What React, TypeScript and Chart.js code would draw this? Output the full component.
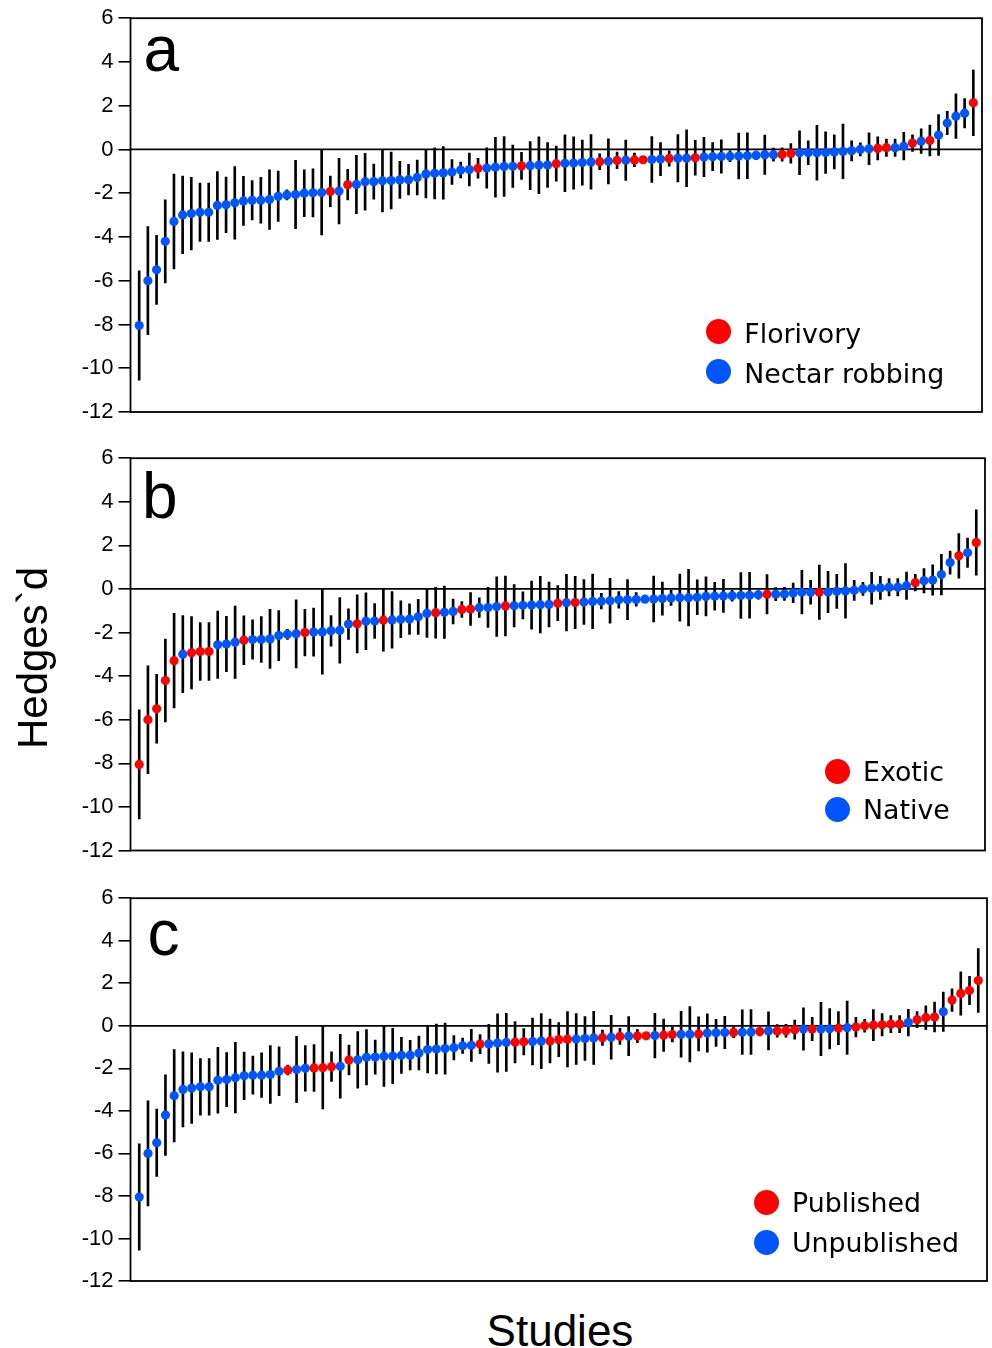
import React, { useEffect, useRef } from "react";
import { Chart, registerables } from "chart.js";
Chart.register(...registerables);

// ---------- DATA ----------
// Hedges' d per study (sorted ascending) and half-width of its confidence interval
const effectSizes = [
  -8.05, -6.0, -5.5, -4.2, -3.29, -2.99, -2.93, -2.87, -2.87, -2.56,
  -2.53, -2.44, -2.35, -2.32, -2.32, -2.29, -2.14, -2.08, -2.06, -2.0,
  -1.98, -1.97, -1.92, -1.9, -1.61, -1.6, -1.48, -1.47, -1.43, -1.42,
  -1.39, -1.38, -1.28, -1.12, -1.09, -1.07, -1.03, -0.94, -0.92, -0.86,
  -0.85, -0.81, -0.78, -0.77, -0.75, -0.74, -0.72, -0.71, -0.65, -0.63,
  -0.62, -0.6, -0.57, -0.56, -0.54, -0.5, -0.49, -0.48, -0.47, -0.46,
  -0.44, -0.41, -0.4, -0.4, -0.38, -0.34, -0.33, -0.32, -0.31, -0.3,
  -0.29, -0.27, -0.24, -0.24, -0.23, -0.18, -0.15, -0.15, -0.15, -0.14,
  -0.11, -0.09, -0.06, 0.0, 0.03, 0.05, 0.08, 0.08, 0.15, 0.29,
  0.38, 0.41, 0.66, 1.21, 1.52, 1.66, 2.13,
];
const ciHalfWidths = [
  2.5, 2.47, 1.58, 1.9, 2.17, 1.77, 1.66, 1.33, 1.33, 1.55,
  1.27, 1.66, 1.12, 0.9, 1.05, 1.36, 1.15, 0.23, 1.56, 1.07,
  1.1, 1.94, 0.7, 1.5, 0.7, 1.33, 1.3, 0.8, 1.42, 1.3,
  0.85, 0.7, 0.8, 1.1, 1.17, 1.2, 0.57, 0.36, 0.75, 0.45,
  0.92, 1.37, 1.37, 0.97, 0.62, 1.1, 1.3, 1.03, 0.8, 1.3,
  1.2, 1.03, 1.25, 0.36, 1.03, 0.38, 0.92, 0.31, 0.16, 1.05,
  0.76, 0.35, 1.08, 1.3, 0.8, 0.9, 0.64, 0.76, 0.25, 1.05,
  1.05, 0.2, 0.9, 0.3, 0.3, 0.45, 1.0, 0.55, 1.25, 0.95,
  0.78, 1.25, 0.46, 0.3, 0.73, 0.53, 0.4, 0.4, 0.63, 0.38,
  0.56, 0.7, 0.93, 0.53, 1.02, 0.67, 1.5,
];
// study numbers (1-based) belonging to the "red" group of each panel
const florivoryStudies = [23, 25, 40, 45, 49, 54, 56, 58, 59, 62, 65, 75, 76, 86, 87, 90, 92, 97];
const exoticStudies = [1, 2, 3, 4, 5, 7, 8, 9, 13, 20, 26, 29, 35, 38, 39, 43, 49, 51, 73, 79, 90, 95, 97];
const publishedStudies = [
  18, 21, 22, 23, 25, 40, 44, 45, 48, 49, 50, 54, 56, 58, 59, 61, 62, 65, 69, 72, 74, 75, 76, 78,
  81, 83, 84, 85, 86, 87, 88, 90, 91, 92, 94, 95, 96, 97,
];
const panelLetters = ["a", "b", "c"];
const redLabels = ["Florivory", "Exotic", "Published"];
const blueLabels = ["Nectar robbing", "Native", "Unpublished"];
const yMin = -12;
const yMax = 6;
const yStep = 2;

// ---------- STYLE / LAYOUT ----------
const RED = "#FF0000";
const BLUE = "#0055FF";
const SANS = "'Liberation Sans', Arial, Helvetica, sans-serif";
const LEGEND_FONT = "'DejaVu Sans', Verdana, sans-serif";

const panelLayouts = [
  { top: 0, height: 432, padTop: 16, padBottom: 20, padRight: 10, letterLeft: 143.5, letterBase: 71, legX: 718.3, legY1: 331.7, legY2: 371.7, textDy: 12.4 },
  { top: 440, height: 430, padTop: 16.5, padBottom: 19.5, padRight: 7, letterLeft: 142, letterBase: 518, legX: 837, legY1: 771, legY2: 809.5, textDy: 10.5 },
  { top: 880, height: 420, padTop: 16, padBottom: 19, padRight: 5, letterLeft: 147.5, letterBase: 955, legX: 766, legY1: 1202, legY2: 1242, textDy: 10.3 },
];

const framePlugin = {
  id: "frame",
  beforeDatasetsDraw(chart: any) {
    const { ctx, chartArea: a, scales } = chart;
    const y0 = scales.y.getPixelForValue(0);
    ctx.save();
    ctx.strokeStyle = "#000";
    ctx.lineWidth = 1.8;
    ctx.beginPath();
    ctx.moveTo(a.left, y0);
    ctx.lineTo(a.right, y0);
    ctx.stroke();
    ctx.restore();
  },
  afterDatasetsDraw(chart: any) {
    const { ctx, chartArea: a } = chart;
    ctx.save();
    ctx.strokeStyle = "#000";
    ctx.lineWidth = 1.8;
    ctx.strokeRect(a.left, a.top, a.right - a.left, a.bottom - a.top);
    ctx.restore();
  },
};

function Panel({ idx, redIds }: { idx: number; redIds: number[] }) {
  const ref = useRef<HTMLCanvasElement>(null);
  const L = panelLayouts[idx];
  useEffect(() => {
    const redSet = new Set(redIds);
    const studyNo = effectSizes.map((_, i) => i + 1);
    const chart = new Chart(ref.current as HTMLCanvasElement, {
      type: "bar",
      data: {
        datasets: [
          {
            type: "scatter",
            order: 0,
            data: studyNo.map((x, i) => ({ x, y: effectSizes[i] })),
            pointRadius: 4.6,
            pointHoverRadius: 4.6,
            pointBorderWidth: 0,
            pointBackgroundColor: studyNo.map((x) => (redSet.has(x) ? RED : BLUE)),
            showLine: false,
          } as any,
          {
            type: "bar",
            order: 1,
            data: studyNo.map((x, i) => ({
              x,
              y: [effectSizes[i] - ciHalfWidths[i], effectSizes[i] + ciHalfWidths[i]],
            })),
            backgroundColor: "#000",
            borderWidth: 0,
            barThickness: 2,
          } as any,
        ],
      },
      options: {
        animation: false,
        responsive: false,
        events: [],
        layout: { padding: { left: 0, right: L.padRight, top: L.padTop, bottom: L.padBottom } },
        plugins: { legend: { display: false }, tooltip: { enabled: false } },
        scales: {
          x: { type: "linear", min: 0, max: 98, offset: false, display: false },
          y: {
            type: "linear",
            min: yMin,
            max: yMax,
            afterFit: (s: any) => {
              s.width = 130.5;
            },
            ticks: { stepSize: yStep, color: "#000", padding: 5, font: { family: SANS, size: 22 } },
            grid: { drawOnChartArea: false, drawTicks: true, tickLength: 12, color: "#000", lineWidth: 1.6 },
            border: { display: false },
          },
        },
      } as any,
      plugins: [framePlugin],
    });
    return () => chart.destroy();
  }, []);

  const txt = (s: string, left: number, base: number, size: number, font: string, asc: number) => (
    <div
      style={{
        position: "absolute",
        left,
        top: base - asc * size,
        fontFamily: font,
        fontSize: size,
        lineHeight: `${size}px`,
        whiteSpace: "nowrap",
        color: "#000",
      }}
    >
      {s}
    </div>
  );
  const dot = (cx: number, cy: number, color: string) => (
    <div
      style={{
        position: "absolute",
        left: cx - 12.5,
        top: cy - 12.5,
        width: 25,
        height: 25,
        borderRadius: "50%",
        background: color,
      }}
    />
  );

  return (
    <>
      <canvas
        ref={ref}
        width={992}
        height={L.height}
        style={{ position: "absolute", left: 0, top: L.top, width: 992, height: L.height }}
      />
      {txt(panelLetters[idx], L.letterLeft, L.letterBase, 64, SANS, 0.8465)}
      {dot(L.legX, L.legY1, RED)}
      {dot(L.legX, L.legY2, BLUE)}
      {txt(redLabels[idx], L.legX + 26, L.legY1 + L.textDy, 26.8, LEGEND_FONT, 0.846)}
      {txt(blueLabels[idx], L.legX + 26, L.legY2 + L.textDy, 26.8, LEGEND_FONT, 0.846)}
    </>
  );
}

export default function App() {
  return (
    <div
      style={{
        position: "fixed",
        left: 0,
        top: 0,
        width: 992,
        height: 1348,
        overflow: "hidden",
        background: "#fff",
      }}
    >
      <Panel idx={0} redIds={florivoryStudies} />
      <Panel idx={1} redIds={exoticStudies} />
      <Panel idx={2} redIds={publishedStudies} />
      <div
        style={{
          position: "absolute",
          left: 33 - 150,
          top: 658 - 21,
          width: 300,
          height: 42,
          lineHeight: "42px",
          fontSize: 42,
          fontFamily: SANS,
          textAlign: "center",
          transform: "rotate(-90deg)",
          whiteSpace: "nowrap",
        }}
      >
        Hedges`d
      </div>
      <div
        style={{
          position: "absolute",
          left: 560 - 150,
          top: 1346 - 0.8465 * 44,
          width: 300,
          lineHeight: "44px",
          fontSize: 44,
          fontFamily: SANS,
          textAlign: "center",
          whiteSpace: "nowrap",
        }}
      >
        Studies
      </div>
    </div>
  );
}
